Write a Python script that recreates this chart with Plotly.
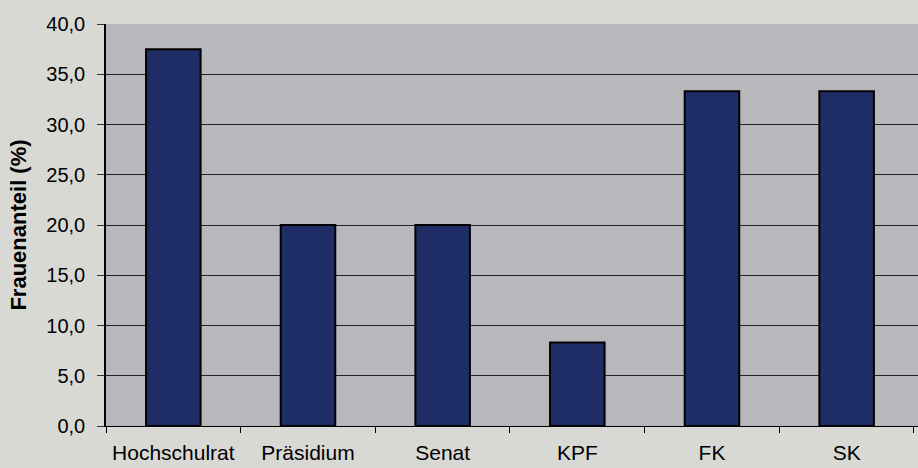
import plotly.graph_objects as go

categories = ["Hochschulrat", "Präsidium", "Senat", "KPF", "FK", "SK"]
values = [37.5, 20.0, 20.0, 8.3, 33.3, 33.3]
y_ticks = [0, 5, 10, 15, 20, 25, 30, 35, 40]

fig = go.Figure(go.Bar(
    x=categories, y=values, width=0.405,
    marker=dict(color="#1f2d66", line=dict(color="#000000", width=2)),
))

fig.update_layout(
    width=918, height=468,
    margin=dict(l=106, r=0, t=24, b=42),
    paper_bgcolor="#d8d9d5", plot_bgcolor="#b8b8bc",
    separators=",.",
    font=dict(family="Arial, Liberation Sans, sans-serif", size=20, color="#000000"),
    showlegend=False,
)
fig.update_xaxes(
    range=[-0.5, 5.53], showline=True, linecolor="#000000", linewidth=1,
    ticks="outside", tickson="boundaries", ticklen=6, tickcolor="#000000",
    showgrid=False, tickfont=dict(size=21), ticklabelstandoff=8,
)
fig.update_yaxes(
    range=[0, 40], tickvals=y_ticks, tickformat=".1f",
    showline=True, linecolor="#000000", linewidth=1.5,
    ticks="outside", ticklen=7, tickcolor="#333333",
    showgrid=True, gridcolor="#222222", gridwidth=1.2, zeroline=False,
    title=dict(text="<b>Frauenanteil (%)</b>", font=dict(size=22), standoff=14),
    tickfont=dict(size=20), ticklabelstandoff=8,
)
fig.write_html(
    "out.html",
    config={"displayModeBar": False},
    post_script="document.body.style.margin='0';document.body.style.overflow='hidden';",
)
